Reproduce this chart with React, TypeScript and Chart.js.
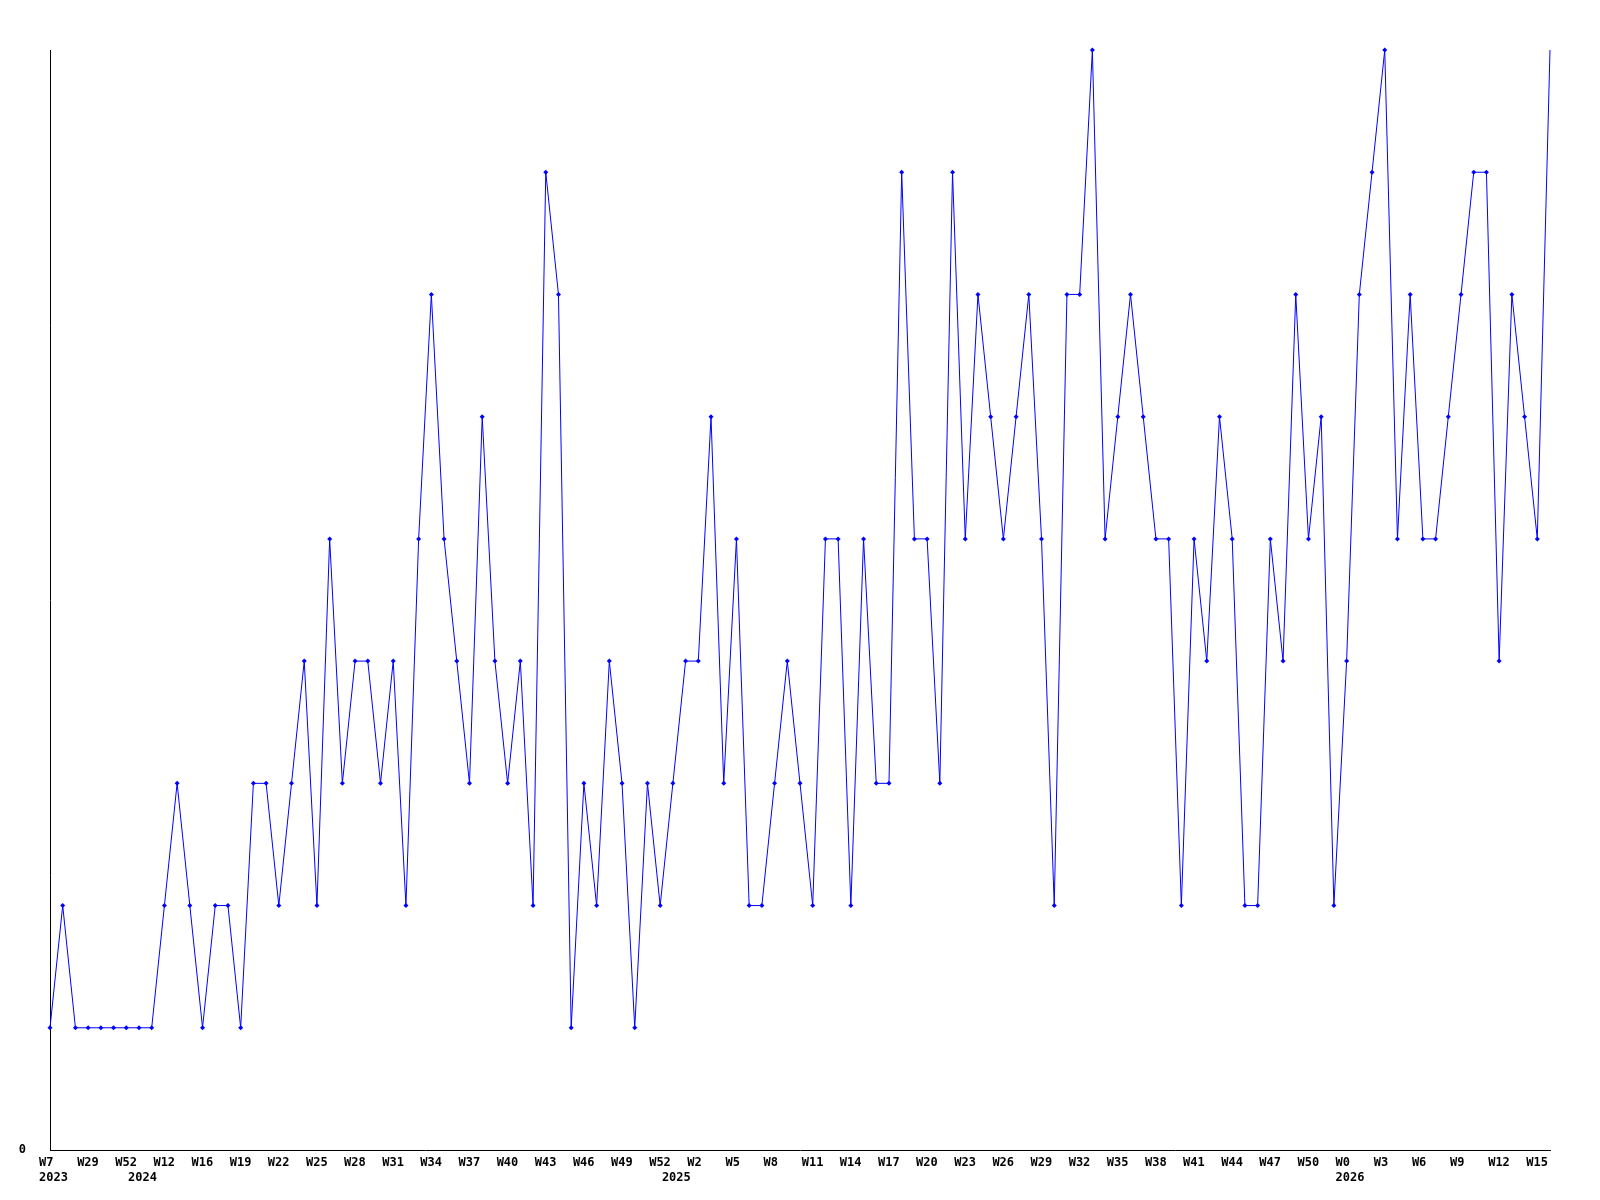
import React, { useEffect, useRef } from "react";
import { Chart, registerables } from "chart.js";

Chart.register(...registerables);

// ISO-style week numbers for each data point (year rolls over where the week number resets)
const weekNumbers = [
  7, 12, 20, 29, 35, 44, 52,
  0, 5, 12, 13, 15, 16, 17, 18, 19, 20, 21, 22, 23, 24, 25, 26, 27, 28, 29, 30,
  31, 32, 33, 34, 35, 36, 37, 38, 39, 40, 41, 42, 43, 44, 45, 46, 47, 48, 49, 50, 51, 52,
  0, 1, 2, 3, 4, 5, 6, 7, 8, 9, 10, 11, 12, 13, 14, 15, 16, 17, 18, 19, 20, 21, 22, 23, 24, 25,
  26, 27, 28, 29, 30, 31, 32, 33, 34, 35, 36, 37, 38, 39, 40, 41, 42, 43, 44, 45, 46, 47, 48, 49, 50, 51, 52,
  0, 1, 2, 3, 4, 5, 6, 7, 8, 9, 10, 11, 12, 13, 14, 15, 16,
];
const firstYear = 2023;

const counts = [
  1, 2, 1, 1, 1, 1, 1, 1, 1, 2,
  3, 2, 1, 2, 2, 1, 3, 3, 2, 3,
  4, 2, 5, 3, 4, 4, 3, 4, 2, 5,
  7, 5, 4, 3, 6, 4, 3, 4, 2, 8,
  7, 1, 3, 2, 4, 3, 1, 3, 2, 3,
  4, 4, 6, 3, 5, 2, 2, 3, 4, 3,
  2, 5, 5, 2, 5, 3, 3, 8, 5, 5,
  3, 8, 5, 7, 6, 5, 6, 7, 5, 2,
  7, 7, 9, 5, 6, 7, 6, 5, 5, 2,
  5, 4, 6, 5, 2, 2, 5, 4, 7, 5,
  6, 2, 4, 7, 8, 9, 5, 7, 5, 5,
  6, 7, 8, 8, 4, 7, 6, 5, 9,
];

const yMin = 0;
const yMax = 9;
const labelEvery = 3;

const FONT_FAMILY = "'DejaVu Sans Mono', monospace";

function buildYearOfIndex(): (string | null)[] {
  const out: (string | null)[] = [];
  let year = firstYear;
  for (let i = 0; i < weekNumbers.length; i++) {
    const isStart = i === 0 || weekNumbers[i] < weekNumbers[i - 1];
    if (i > 0 && isStart) year++;
    out.push(isStart ? String(year) : null);
  }
  return out;
}

export default function App() {
  const canvasRef = useRef<HTMLCanvasElement | null>(null);

  useEffect(() => {
    const canvas = canvasRef.current;
    if (!canvas) return;
    const yearOfIndex = buildYearOfIndex();
    const labels = weekNumbers.map((w) => "W" + w);
    const lastIndex = counts.length - 1;

    // Draws the x tick labels left-aligned just before each category position
    const xLabelPlugin = {
      id: "xLeftLabels",
      afterDraw(chart: any) {
        const scale = chart.scales.x;
        const ctx = chart.ctx;
        const bottom = chart.chartArea.bottom;
        ctx.save();
        ctx.font = "bold 12px " + FONT_FAMILY;
        ctx.fillStyle = "#000000";
        ctx.textAlign = "left";
        ctx.textBaseline = "middle";
        for (let i = 0; i < labels.length; i++) {
          const x = scale.getPixelForValue(i) - 11;
          if (i % labelEvery === 0) ctx.fillText(labels[i], x, bottom + 13);
          const yr = yearOfIndex[i];
          if (yr) ctx.fillText(yr, x, bottom + 28);
        }
        ctx.restore();
      },
    };

    const chart = new Chart(canvas, {
      type: "line",
      data: {
        labels,
        datasets: [
          {
            data: counts,
            borderColor: "#0000ff",
            backgroundColor: "#0000ff",
            borderWidth: 1,
            pointStyle: "rectRot",
            pointRadius: counts.map((_, i) => (i === lastIndex ? 0 : 2.5)),
            pointBorderWidth: 0,
            pointBackgroundColor: "#0000ff",
            tension: 0,
            fill: false,
            clip: false as any,
          },
        ],
      },
      options: {
        animation: false,
        responsive: false,
        events: [],
        layout: { padding: { top: 50, right: 50, left: 0, bottom: 0 } },
        plugins: {
          legend: { display: false },
          tooltip: { enabled: false },
          title: { display: false },
        },
        scales: {
          x: {
            type: "category",
            offset: false,
            grid: { display: false, drawTicks: false },
            border: { display: true, color: "#000000", width: 1 },
            ticks: { display: false, autoSkip: false },
            afterFit: (scale: any) => {
              scale.height = 50;
            },
          },
          y: {
            min: yMin,
            max: yMax,
            grid: { display: false, drawTicks: false },
            border: { display: true, color: "#000000", width: 1 },
            ticks: {
              stepSize: 1,
              padding: 24,
              color: "#000000",
              font: { family: FONT_FAMILY, size: 12, weight: "bold" },
              callback: (v: any) => (v === 0 ? "0" : ""),
            },
            afterFit: (scale: any) => {
              scale.width = 50;
            },
          },
        },
      },
      plugins: [xLabelPlugin],
    });
    return () => chart.destroy();
  }, []);

  return (
    <div style={{ position: "absolute", left: 0, top: 0, width: 1600, height: 1200, background: "#ffffff" }}>
      <canvas ref={canvasRef} width={1600} height={1200} style={{ display: "block" }} />
    </div>
  );
}
